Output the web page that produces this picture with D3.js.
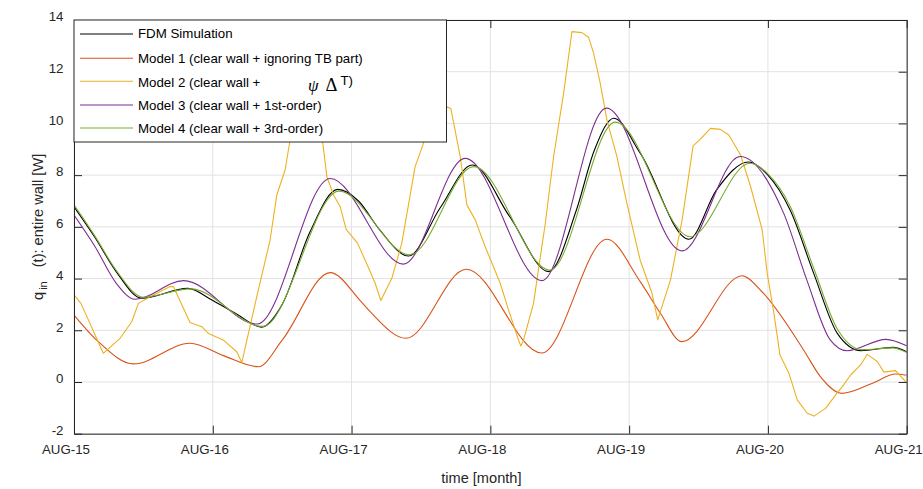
<!DOCTYPE html>
<html>
<head>
<meta charset="utf-8">
<script src="https://cdn.jsdelivr.net/npm/d3@7"></script>
<style>
  html, body { margin: 0; padding: 0; background: #fff; }
  svg { display: block; font-family: "Liberation Sans", Arial, Helvetica, sans-serif; }
</style>
</head>
<body>
<svg id="chart" width="923" height="489"></svg>
<script>
// x positions are days counted from AUG-15
const dayLabels = ["AUG-15", "AUG-16", "AUG-17", "AUG-18", "AUG-19", "AUG-20", "AUG-21"];
const yTicks = [-2, 0, 2, 4, 6, 8, 10, 12, 14];

// FDM simulation, heat flow into the room through the entire wall [W]
const fdmT = [0, 0.15, 0.3, 0.49, 0.82, 1.0, 1.18, 1.35, 1.5, 1.7, 1.9, 2.05, 2.2, 2.41, 2.64, 2.87, 3.14, 3.42, 3.62, 3.75, 3.89, 4.08, 4.43, 4.63, 4.86, 5.0, 5.16, 5.33, 5.5, 5.67, 5.9, 6.0];
const fdmQ = [6.78, 5.6, 4.3, 3.24, 3.62, 3.15, 2.6, 2.12, 3.0, 5.8, 7.45, 7.0, 5.9, 4.87, 6.75, 8.39, 6.39, 4.27, 6.65, 8.97, 10.2, 8.85, 5.52, 7.43, 8.51, 8.0, 6.65, 4.2, 1.88, 1.21, 1.34, 1.17];

// Model 1: clear wall only
const m1T = [0, 0.175, 0.428, 0.836, 1.076, 1.329, 1.5, 1.846, 2.062, 2.134, 2.393, 2.826, 3.37, 3.84, 4.08, 4.225, 4.38, 4.814, 4.955, 5.257, 5.378, 5.534, 5.762, 5.919, 6.0];
const m1Q = [2.59, 1.56, 0.70, 1.50, 1.02, 0.59, 1.62, 4.23, 3.15, 2.72, 1.69, 4.36, 1.12, 5.52, 3.88, 2.66, 1.56, 4.11, 3.5, 1.24, 0.21, -0.44, -0.03, 0.31, 0.26];

// Model 2: clear wall + psi * delta T
const m2T = [0, 0.05, 0.211, 0.332, 0.416, 0.464, 0.548, 0.692, 0.716, 0.836, 0.921, 0.968, 1.076, 1.173, 1.209, 1.317, 1.413, 1.461, 1.521, 1.557, 1.65, 1.75, 1.79, 1.822, 1.870, 1.918, 1.961, 2.043, 2.134, 2.17, 2.211, 2.29, 2.362, 2.458, 2.518, 2.6, 2.691, 2.715, 2.783, 2.831, 2.891, 2.963, 3.071, 3.131, 3.203, 3.22, 3.239, 3.311, 3.396, 3.456, 3.528, 3.588, 3.66, 3.708, 3.744, 3.792, 3.84, 3.912, 3.984, 4.08, 4.165, 4.206, 4.298, 4.382, 4.461, 4.514, 4.586, 4.658, 4.718, 4.803, 4.875, 4.959, 4.995, 5.043, 5.087, 5.151, 5.212, 5.284, 5.332, 5.416, 5.488, 5.536, 5.596, 5.668, 5.716, 5.788, 5.836, 5.92, 6.0];
const m2Q = [3.37, 3.04, 1.11, 1.69, 2.33, 3.04, 3.30, 3.69, 3.69, 2.30, 2.14, 1.88, 1.62, 1.17, 0.75, 3.30, 5.49, 7.23, 8.2, 9.36, 10.8, 10.6, 9.36, 7.94, 7.23, 6.78, 5.9, 5.37, 4.27, 3.82, 3.15, 4.01, 5.37, 8.33, 9.23, 10.6, 10.63, 10.58, 8.72, 6.85, 6.27, 5.23, 3.82, 2.79, 1.62, 1.39, 1.62, 3.04, 6.14, 8.72, 11.17, 13.55, 13.51, 13.33, 12.72, 11.55, 10.14, 8.72, 6.91, 4.7, 3.43, 2.40, 3.95, 6.27, 9.13, 9.39, 9.81, 9.77, 9.55, 8.78, 7.56, 5.88, 4.2, 2.66, 1.04, 0.34, -0.70, -1.21, -1.32, -1.02, -0.50, -0.18, 0.27, 0.66, 1.07, 0.79, 0.38, 0.44, -0.03];

// Model 3: clear wall + 1st-order thermal bridge term
const m3T = [0, 0.15, 0.3, 0.44, 0.79, 1.32, 1.846, 2.373, 2.819, 3.372, 3.836, 4.38, 4.8, 5.114, 5.28, 5.45, 5.57, 5.85, 6.0];
const m3Q = [6.46, 5.25, 3.85, 3.2, 3.92, 2.24, 7.87, 4.56, 8.65, 3.92, 10.59, 5.07, 8.72, 6.52, 3.95, 1.62, 1.21, 1.65, 1.4];

// Model 4: clear wall + 3rd-order thermal bridge term
const m4T = [0, 0.15, 0.3, 0.5, 0.84, 1.36, 1.91, 2.42, 2.88, 3.43, 3.9, 4.44, 4.87, 5.0, 5.16, 5.33, 5.5, 5.68, 5.9, 6.0];
const m4Q = [6.85, 5.65, 4.35, 3.28, 3.6, 2.15, 7.38, 4.92, 8.33, 4.33, 10.05, 5.62, 8.46, 8.05, 6.8, 4.4, 2.05, 1.25, 1.32, 1.14];

const seriesNames = [
  "FDM Simulation",
  "Model 1 (clear wall + ignoring TB part)",
  "Model 2 (clear wall +",
  "Model 3 (clear wall + 1st-order)",
  "Model 4 (clear wall + 3rd-order)"
];
const seriesColors = ["#000000", "#D95319", "#EDB120", "#7E2F8E", "#77AC30"];

const series = [
  { t: fdmT, q: fdmQ, curve: d3.curveMonotoneX },
  { t: m1T, q: m1Q, curve: d3.curveMonotoneX },
  { t: m2T, q: m2Q, curve: d3.curveLinear },
  { t: m3T, q: m3Q, curve: d3.curveMonotoneX },
  { t: m4T, q: m4Q, curve: d3.curveMonotoneX }
].map((s, i) => ({ ...s, name: seriesNames[i], color: seriesColors[i],
                   points: s.t.map((t, j) => [t, s.q[j]]) }));

const svg = d3.select("#chart");
const W = 923, H = 489;
const plot = { left: 74, right: 906.7, top: 20, bottom: 433.7 };
const axisColor = "#262626";

svg.append("rect").attr("width", W).attr("height", H).attr("fill", "#fff");

const x = d3.scaleLinear().domain([0, 6]).range([plot.left, plot.right]);
const y = d3.scaleLinear().domain([-2, 14]).range([plot.bottom, plot.top]);
const xTicks = d3.range(dayLabels.length);

// grid
const grid = svg.append("g").attr("stroke", "#e2e2e2").attr("stroke-width", 1);
grid.selectAll("line.gx").data(xTicks).join("line")
  .attr("x1", d => x(d)).attr("x2", d => x(d))
  .attr("y1", plot.top).attr("y2", plot.bottom);
grid.selectAll("line.gy").data(yTicks).join("line")
  .attr("x1", plot.left).attr("x2", plot.right)
  .attr("y1", d => y(d)).attr("y2", d => y(d));

// data lines
svg.append("clipPath").attr("id", "plotClip").append("rect")
  .attr("x", plot.left).attr("y", plot.top)
  .attr("width", plot.right - plot.left).attr("height", plot.bottom - plot.top);

const lineGroup = svg.append("g").attr("clip-path", "url(#plotClip)");
series.forEach(s => {
  const line = d3.line().x(d => x(d[0])).y(d => y(d[1])).curve(s.curve);
  lineGroup.append("path")
    .attr("d", line(s.points))
    .attr("fill", "none")
    .attr("stroke", s.color)
    .attr("stroke-width", 1.1)
    .attr("stroke-linejoin", "round");
});

// axes (ticks point inwards, box on all four sides)
function styleAxis(g) {
  g.select(".domain").attr("stroke", axisColor).attr("stroke-width", 1);
  g.selectAll(".tick line").attr("stroke", axisColor).attr("stroke-width", 1);
  g.selectAll(".tick text").attr("fill", axisColor)
    .attr("font-size", "13.3px")
    .attr("font-family", "'Liberation Sans', Arial, Helvetica, sans-serif");
}

svg.append("g").attr("transform", `translate(0,${plot.bottom})`)
  .call(d3.axisBottom(x).tickValues(xTicks).tickFormat(i => dayLabels[i])
        .tickSizeInner(-8).tickSizeOuter(0).tickPadding(11))
  .call(styleAxis)
  .call(g => g.selectAll(".tick text").attr("dx", -8.5));
svg.append("g").attr("transform", `translate(0,${plot.top})`)
  .call(d3.axisTop(x).tickValues(xTicks).tickFormat("")
        .tickSizeInner(-8).tickSizeOuter(0))
  .call(styleAxis);
svg.append("g").attr("transform", `translate(${plot.left},0)`)
  .call(d3.axisLeft(y).tickValues(yTicks).tickFormat(d => String(d))
        .tickSizeInner(-8).tickSizeOuter(0).tickPadding(10.5))
  .call(styleAxis)
  .call(g => g.selectAll(".tick text").attr("y", -3.5));
svg.append("g").attr("transform", `translate(${plot.right},0)`)
  .call(d3.axisRight(y).tickValues(yTicks).tickFormat("")
        .tickSizeInner(-8).tickSizeOuter(0))
  .call(styleAxis);

// axis labels
svg.append("text")
  .attr("x", (plot.left + plot.right) / 2 - 9).attr("y", 483)
  .attr("text-anchor", "middle").attr("font-size", "14.6px").attr("fill", axisColor)
  .text("time [month]");

const yl = svg.append("text")
  .attr("transform", `translate(43,${(plot.top + plot.bottom) / 2}) rotate(-90)`)
  .attr("text-anchor", "middle").attr("font-size", "14.6px").attr("fill", axisColor);
yl.append("tspan").text("q");
yl.append("tspan").attr("dy", 4).attr("dx", 2).attr("font-size", "11px").text("in");
yl.append("tspan").attr("dy", -4).attr("dx", 14).text("(t): entire wall [W]");

// legend
const legend = svg.append("g");
legend.append("rect")
  .attr("x", plot.left).attr("y", plot.top)
  .attr("width", 372.5).attr("height", 122)
  .attr("fill", "#fff").attr("stroke", axisColor).attr("stroke-width", 1);

const legendLineY = [34, 58.3, 81.3, 105, 128];
const legendTextY = [37.8, 62.5, 86.5, 110, 133];
series.forEach((s, i) => {
  legend.append("line")
    .attr("x1", 80).attr("x2", 133)
    .attr("y1", legendLineY[i]).attr("y2", legendLineY[i])
    .attr("stroke", s.color).attr("stroke-width", 1.1);
  legend.append("text")
    .attr("x", 138).attr("y", legendTextY[i])
    .attr("font-size", "13.3px").attr("fill", "#000")
    .text(s.name);
});
// remaining symbols of the Model 2 entry
const sym = legend.append("text").attr("y", 91).attr("fill", "#000");
sym.append("tspan").attr("x", 308)
  .attr("font-family", "'Liberation Serif', 'DejaVu Serif', serif")
  .attr("font-style", "italic").attr("font-size", "17px").text("ψ");
sym.append("tspan").attr("x", 325.5)
  .attr("font-family", "'Liberation Serif', 'DejaVu Serif', serif")
  .attr("font-size", "18.5px").text("Δ");
sym.append("tspan").attr("x", 340.5).attr("y", 84.5)
  .attr("font-size", "13.3px").text("T)");
</script>
</body>
</html>
